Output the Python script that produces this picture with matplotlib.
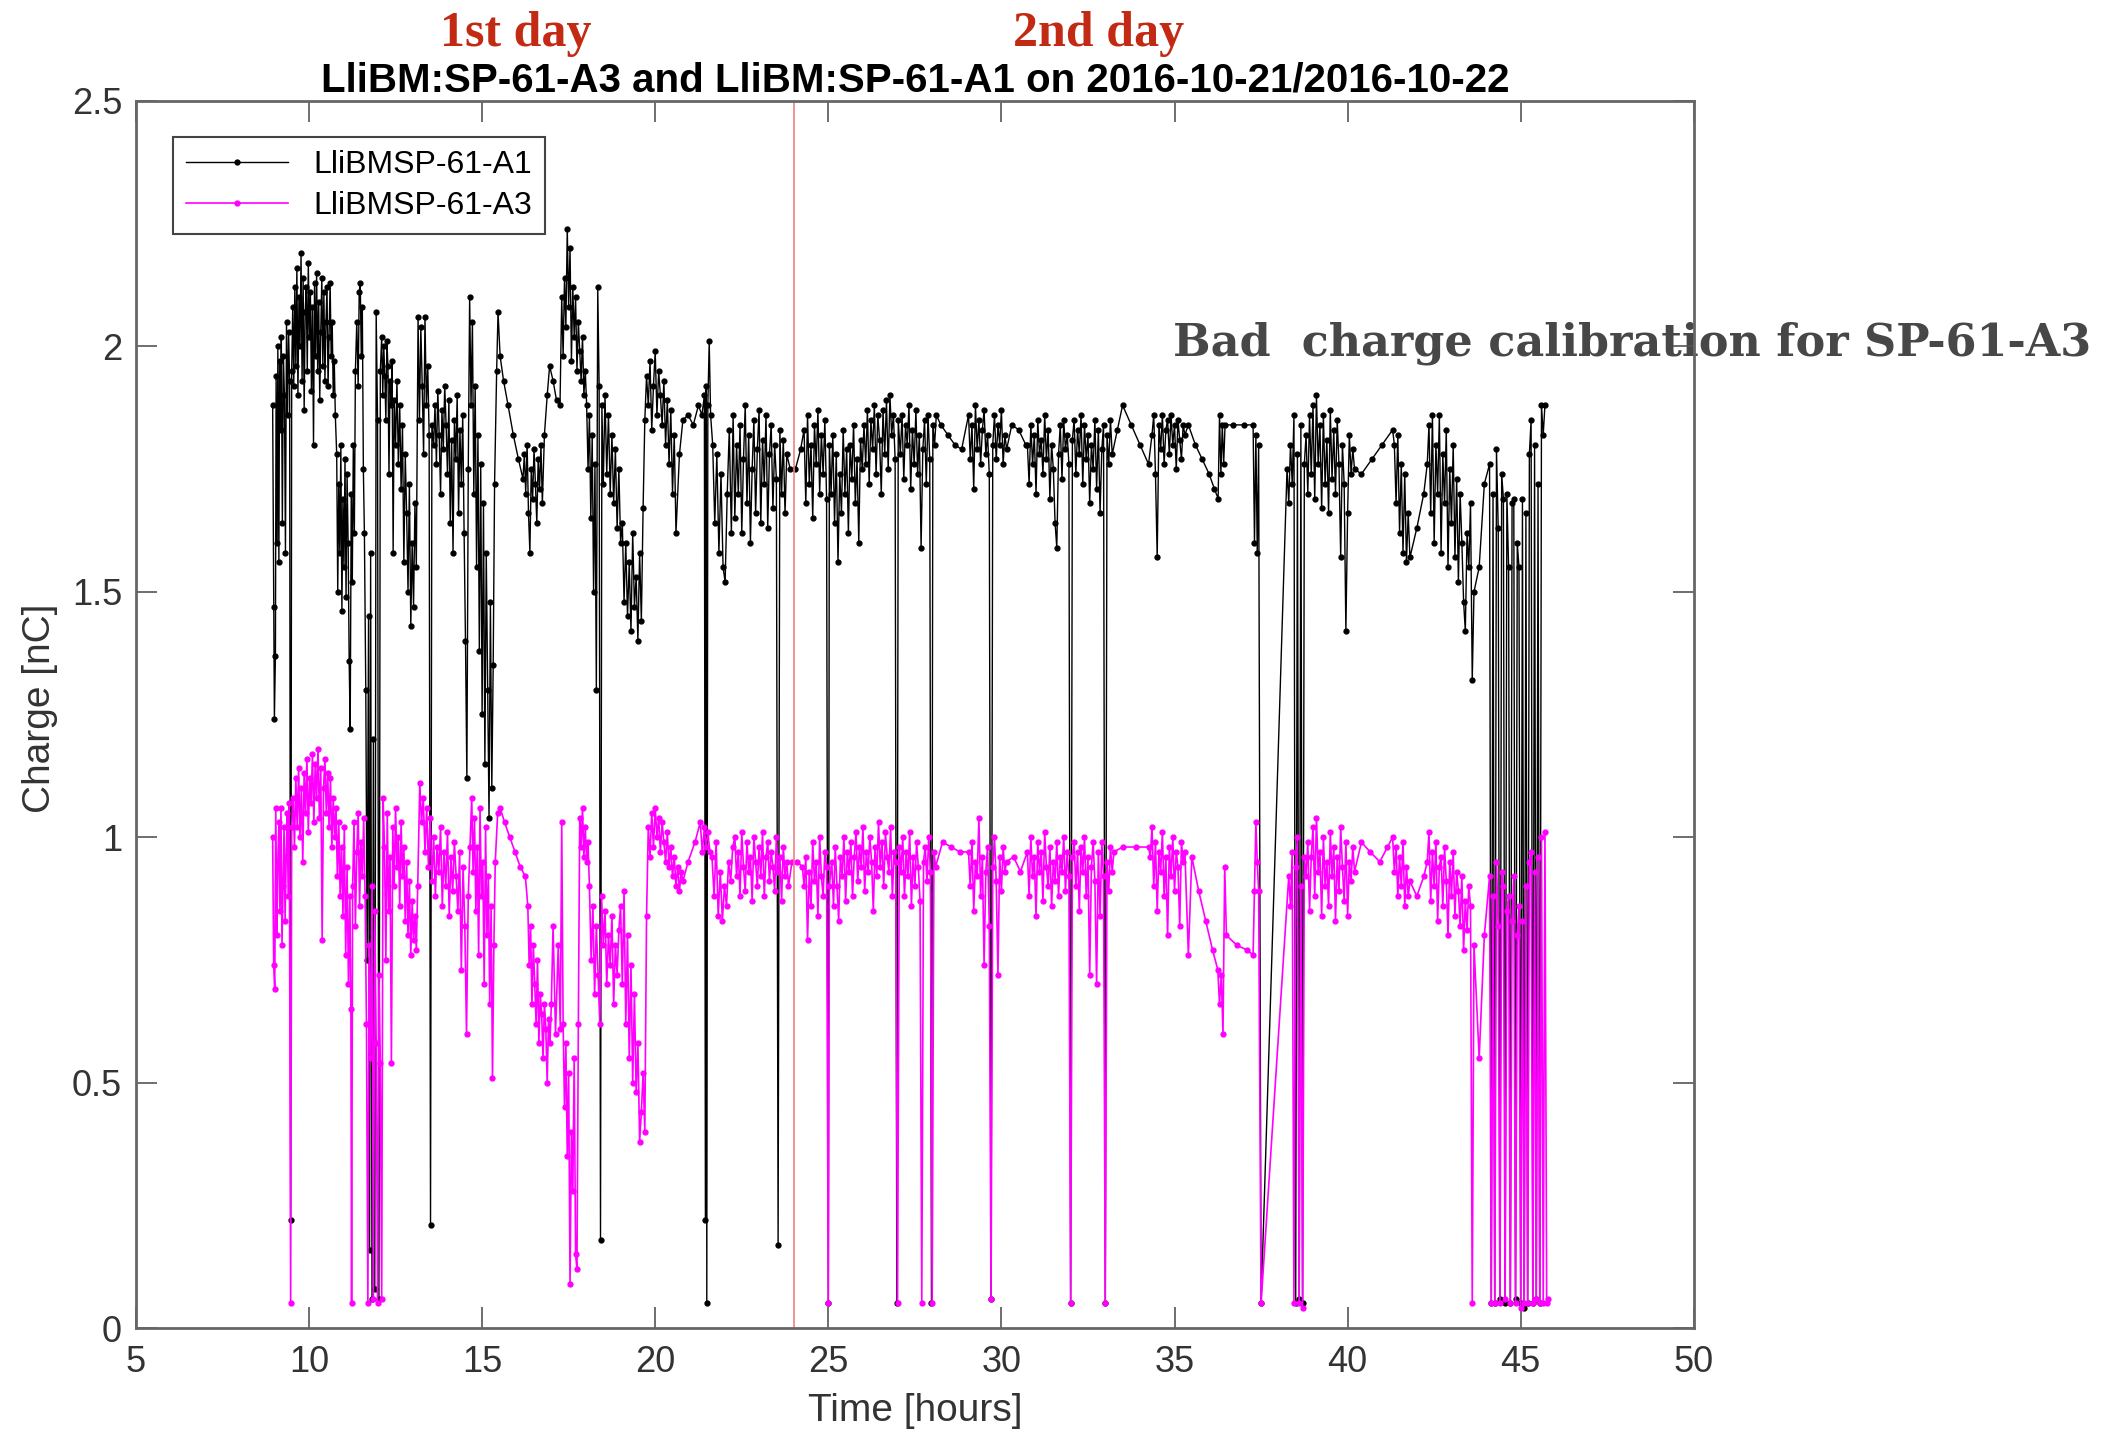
import matplotlib
matplotlib.use('Agg')
import matplotlib.pyplot as plt

# LliBMSP-61-A1 (black)
a1_hours = [
    8.95, 8.98, 9.00, 9.03, 9.05, 9.08, 9.10, 9.13, 9.15, 9.18,
    9.20, 9.23, 9.26, 9.29, 9.32, 9.35, 9.38, 9.41, 9.44, 9.47,
    9.50, 9.53, 9.56, 9.59,
    9.62, 9.65, 9.68, 9.71, 9.74, 9.77, 9.80, 9.83, 9.86, 9.89,
    9.92, 9.95, 9.98, 10.01, 10.04, 10.07, 10.10, 10.13, 10.16, 10.19,
    10.22, 10.25, 10.28, 10.31, 10.34, 10.37, 10.40, 10.43, 10.46, 10.49,
    10.52, 10.55, 10.58, 10.61, 10.64, 10.67, 10.70, 10.73, 10.76,
    10.80, 10.83, 10.86, 10.89, 10.92, 10.95, 10.98, 11.01, 11.04, 11.07,
    11.10, 11.13, 11.16, 11.19, 11.22, 11.25, 11.28, 11.31, 11.34,
    11.38, 11.42, 11.45, 11.48, 11.51, 11.54, 11.57,
    11.60, 11.64, 11.68, 11.72, 11.75, 11.78, 11.82, 11.86, 11.90, 11.94,
    11.98, 12.02, 12.06, 12.10,
    12.13, 12.16, 12.19, 12.22, 12.25, 12.28, 12.31, 12.34, 12.37, 12.40,
    12.43,
    12.46, 12.50, 12.54, 12.58, 12.62, 12.66, 12.70, 12.74, 12.78, 12.82,
    12.86, 12.90, 12.94, 12.98, 13.02, 13.06, 13.10,
    13.15, 13.19, 13.23, 13.27, 13.31, 13.35, 13.39, 13.43, 13.47, 13.51,
    13.55,
    13.60, 13.64, 13.68, 13.72, 13.76, 13.80, 13.84, 13.88, 13.92, 13.96,
    14.00, 14.04, 14.08, 14.12, 14.16, 14.20, 14.24, 14.28, 14.32, 14.36,
    14.40, 14.44, 14.48,
    14.52, 14.56, 14.60, 14.64, 14.68, 14.72, 14.76, 14.80, 14.84, 14.88,
    14.92, 14.96, 15.00, 15.04, 15.08, 15.12, 15.16, 15.20, 15.24, 15.28,
    15.32, 15.36,
    15.42, 15.46, 15.52, 15.62, 15.75, 15.90, 16.05, 16.18,
    16.22, 16.26, 16.30, 16.34, 16.38, 16.42, 16.46, 16.50, 16.54, 16.58,
    16.62, 16.66, 16.70, 16.74,
    16.80, 16.88, 16.95, 17.05, 17.15, 17.25,
    17.30, 17.34, 17.38, 17.42, 17.46, 17.50, 17.54, 17.58, 17.62, 17.66,
    17.70, 17.74, 17.78, 17.82, 17.86, 17.90, 17.94, 17.98,
    18.02, 18.06, 18.10, 18.14, 18.18, 18.22, 18.26, 18.30, 18.34, 18.38,
    18.42, 18.46, 18.50,
    18.55, 18.60, 18.65, 18.70, 18.75, 18.80, 18.85, 18.90, 18.95, 19.00,
    19.05, 19.10, 19.15, 19.20, 19.25, 19.30, 19.35, 19.40, 19.45, 19.50,
    19.55, 19.60, 19.65,
    19.70, 19.75, 19.80, 19.85, 19.90, 19.95, 20.00, 20.05, 20.10, 20.15,
    20.20, 20.25, 20.30, 20.35, 20.40, 20.45, 20.50, 20.55, 20.60,
    20.70, 20.80, 20.95, 21.10, 21.25, 21.35, 21.42, 21.45, 21.47, 21.49,
    21.52, 21.56, 21.60,
    21.66, 21.72, 21.78, 21.84, 21.90, 21.96, 22.02, 22.08, 22.14, 22.20,
    22.25, 22.30, 22.35, 22.40, 22.45, 22.50, 22.55, 22.60, 22.65, 22.70,
    22.75, 22.80, 22.85, 22.90, 22.95, 23.00, 23.05, 23.10, 23.15, 23.20,
    23.25, 23.30, 23.35, 23.40, 23.45, 23.50, 23.55, 23.60, 23.65, 23.70,
    23.75, 23.80,
    23.90, 24.05, 24.20,
    24.30, 24.35, 24.40, 24.45, 24.50, 24.55, 24.60, 24.65, 24.70, 24.75,
    24.80, 24.85, 24.90, 24.95, 25.00, 25.03,
    25.08, 25.13, 25.18, 25.23, 25.28, 25.33, 25.38, 25.43, 25.48, 25.53,
    25.58, 25.63, 25.68, 25.73, 25.78, 25.83, 25.88, 25.93, 25.98,
    26.03, 26.08, 26.13, 26.18, 26.23, 26.28, 26.33, 26.38, 26.43, 26.48,
    26.53, 26.58, 26.63, 26.68, 26.73, 26.78, 26.83, 26.88, 26.93, 26.98,
    27.02,
    27.08, 27.13, 27.18, 27.23, 27.28, 27.33, 27.38, 27.43, 27.48, 27.53,
    27.58, 27.63, 27.68, 27.73, 27.78, 27.83, 27.88, 27.93, 27.98, 28.02,
    28.07, 28.12,
    28.25, 28.45, 28.65, 28.85,
    29.05, 29.10, 29.15, 29.20, 29.25, 29.30, 29.35, 29.40, 29.45, 29.50,
    29.55, 29.60, 29.65, 29.70, 29.75, 29.80, 29.85, 29.90, 29.95, 30.00,
    30.05, 30.10, 30.15,
    30.30, 30.50, 30.70,
    30.75, 30.80, 30.85, 30.90, 30.95, 31.00, 31.05, 31.10, 31.15, 31.20,
    31.25, 31.30, 31.35, 31.40, 31.45, 31.50, 31.55, 31.60, 31.65, 31.70,
    31.75, 31.80, 31.85, 31.90, 31.95, 32.00, 32.05, 32.10, 32.15, 32.20,
    32.25, 32.30, 32.35, 32.40, 32.45, 32.50, 32.55, 32.60, 32.65, 32.70,
    32.75, 32.80, 32.85, 32.90, 32.95, 33.00, 33.05, 33.10, 33.15, 33.20,
    33.35, 33.50, 33.75, 34.00, 34.25,
    34.35, 34.40, 34.45, 34.50, 34.55, 34.60, 34.65, 34.70, 34.75, 34.80,
    34.85, 34.90, 34.95, 35.00, 35.05, 35.10, 35.15, 35.20, 35.25, 35.30,
    35.40, 35.60, 35.80, 36.00, 36.15, 36.26,
    36.30, 36.34, 36.38, 36.42, 36.46, 36.70, 37.00, 37.27, 37.31, 37.35,
    37.39, 37.43,
    37.50, 38.25, 38.30, 38.35, 38.40, 38.45, 38.50, 38.55, 38.60, 38.65,
    38.70, 38.75,
    38.80, 38.85, 38.90, 38.95, 39.00, 39.05, 39.10, 39.15, 39.20, 39.25,
    39.30, 39.35, 39.40, 39.45, 39.50, 39.55, 39.60, 39.65, 39.70, 39.75,
    39.80, 39.85, 39.90, 39.95, 40.00, 40.05, 40.10, 40.15, 40.20,
    40.40, 40.70, 41.00, 41.30,
    41.35, 41.40, 41.45, 41.50, 41.55, 41.60, 41.65, 41.70, 41.75, 41.80,
    42.00, 42.20,
    42.30, 42.35, 42.40, 42.45, 42.50, 42.55, 42.60, 42.65, 42.70, 42.75,
    42.80, 42.85, 42.90, 42.95, 43.00, 43.05, 43.10, 43.15, 43.20, 43.25,
    43.30, 43.35, 43.40, 43.45, 43.50, 43.55, 43.60, 43.65,
    43.80, 43.95, 44.10, 44.15, 44.20, 44.25, 44.30, 44.35, 44.40, 44.45,
    44.50, 44.55, 44.60, 44.65, 44.70, 44.75, 44.80, 44.85, 44.90, 44.95,
    45.00, 45.05, 45.10, 45.15, 45.20, 45.25, 45.30, 45.35, 45.40, 45.45,
    45.50, 45.55, 45.60, 45.65, 45.70,
]
a1_charge = [
    1.88, 1.47, 1.24, 1.37, 1.94, 1.60, 2.00, 1.56, 1.97, 1.83,
    2.02, 1.64, 1.98, 1.90, 1.58, 2.05, 1.86, 2.03, 1.93, 0.22,
    1.95, 2.08, 1.92, 2.12,
    1.96, 2.16, 1.90, 2.10, 2.00, 2.19, 1.93, 2.14, 1.87, 2.07,
    2.12, 1.95, 2.17, 2.02, 2.11, 1.91, 2.08, 1.80, 2.13, 1.98,
    2.15, 1.95, 2.09, 1.89, 2.03, 2.14, 1.96, 2.11, 1.93, 2.05,
    2.12, 1.92, 2.02, 2.13, 1.98, 2.05, 1.90, 1.97, 1.86,
    1.78, 1.50, 1.72, 1.58, 1.80, 1.46, 1.69, 1.55, 1.77, 1.49,
    1.74, 1.60, 1.36, 1.22, 1.70, 1.52, 1.80, 1.62, 1.95,
    2.05, 1.92, 2.11, 2.13, 1.98, 2.08, 1.75,
    1.62, 1.30, 0.75, 1.45, 0.16, 1.58, 0.06, 1.20, 0.08, 2.07,
    1.85, 0.06, 1.95, 2.02,
    1.90, 2.00, 1.94, 1.85, 2.01, 1.96, 1.74, 1.93, 1.88, 1.97,
    1.58,
    1.89, 1.80, 1.93, 1.76, 1.88, 1.71, 1.84, 1.56, 1.78, 1.66,
    1.50, 1.72, 1.43, 1.60, 1.47, 1.68, 1.55,
    2.06, 1.85, 2.04, 1.92, 1.78, 2.06, 1.88, 1.96, 1.82, 0.21,
    1.84,
    1.80, 1.88, 1.76, 1.91, 1.82, 1.70, 1.87, 1.79, 1.92, 1.84,
    1.74, 1.89, 1.64, 1.81, 1.58, 1.85, 1.77, 1.90, 1.66, 1.83,
    1.72, 1.86, 1.62,
    1.40, 1.12, 1.75, 2.10, 1.88, 2.05, 1.70, 1.92, 1.55, 1.82,
    1.38, 1.76, 1.25, 1.68, 1.15, 1.58, 1.30, 1.04, 1.48, 1.10,
    1.35, 1.72,
    1.95, 2.07, 1.98, 1.93, 1.88, 1.82, 1.77, 1.73,
    1.78, 1.70, 1.80, 1.66, 1.58, 1.75, 1.69, 1.79, 1.72, 1.64,
    1.77, 1.71, 1.80, 1.68,
    1.82, 1.90, 1.96, 1.93, 1.89, 1.88,
    2.10, 1.98, 2.14, 2.04, 2.24, 2.08, 2.20, 1.97, 2.12, 2.02,
    2.10, 1.95, 2.05, 1.99, 1.93, 2.02, 1.90, 1.95,
    1.88, 1.75, 1.86, 1.65, 1.82, 1.50, 1.76, 1.30, 2.12, 1.92,
    0.18, 1.88, 1.72,
    1.90, 1.74, 1.86, 1.70, 1.82, 1.68, 1.79, 1.63, 1.75, 1.60,
    1.64, 1.48, 1.60, 1.45, 1.56, 1.42, 1.62, 1.47, 1.53, 1.40,
    1.58, 1.44, 1.67,
    1.85, 1.94, 1.88, 1.97, 1.83, 1.92, 1.99, 1.86, 1.95, 1.90,
    1.84, 1.93, 1.80, 1.89, 1.76, 1.87, 1.70, 1.82, 1.62,
    1.78, 1.85, 1.86, 1.84, 1.88, 1.86, 1.90, 0.22, 1.92, 0.05,
    1.88, 2.01, 1.86,
    1.80, 1.64, 1.78, 1.58, 1.74, 1.55, 1.52, 1.70, 1.83, 1.62,
    1.86, 1.65, 1.80, 1.70, 1.84, 1.62, 1.77, 1.88, 1.68, 1.82,
    1.60, 1.75, 1.85, 1.66, 1.79, 1.87, 1.64, 1.81, 1.72, 1.86,
    1.63, 1.78, 1.84, 1.67, 1.80, 1.73, 0.17, 1.83, 1.70, 1.81,
    1.66, 1.78,
    1.75, 1.75, 1.79,
    1.83, 1.68, 1.86, 1.72, 1.80, 1.65, 1.84, 1.76, 1.87, 1.70,
    1.82, 1.74, 1.85, 1.69, 0.05, 1.80,
    1.70, 1.82, 1.64, 1.78, 1.56, 1.74, 1.66, 1.83, 1.70, 1.79,
    1.62, 1.80, 1.73, 1.84, 1.68, 1.77, 1.60, 1.81, 1.75,
    1.84, 1.76, 1.87, 1.72, 1.85, 1.79, 1.88, 1.74, 1.86, 1.81,
    1.70, 1.87, 1.78, 1.89, 1.75, 1.90, 1.82, 1.86, 1.77, 0.05,
    1.85,
    1.78, 1.86, 1.73, 1.84, 1.80, 1.88, 1.71, 1.83, 1.76, 1.87,
    1.74, 1.82, 1.59, 1.79, 1.85, 1.72, 1.86, 1.77, 0.05, 1.84,
    1.80, 1.86,
    1.84, 1.82, 1.80, 1.79,
    1.86, 1.77, 1.84, 1.71, 1.88, 1.79, 1.85, 1.76, 1.83, 1.87,
    1.78, 1.82, 1.74, 0.06, 1.80, 1.86, 1.77, 1.84, 1.80, 1.87,
    1.76, 1.82, 1.79,
    1.84, 1.83, 1.80,
    1.80, 1.72, 1.84, 1.76, 1.82, 1.70, 1.85, 1.78, 1.81, 1.74,
    1.86, 1.77, 1.83, 1.69, 1.80, 1.75, 1.64, 1.59, 1.78, 1.84,
    1.73, 1.85, 1.79, 1.82, 1.76, 0.05, 1.81, 1.85, 1.74, 1.83,
    1.78, 1.86, 1.72, 1.84, 1.77, 1.82, 1.68, 1.80, 1.75, 1.85,
    1.71, 1.83, 1.66, 1.79, 1.84, 0.05, 1.82, 1.76, 1.85, 1.78,
    1.83, 1.88, 1.84, 1.80, 1.76,
    1.82, 1.86, 1.74, 1.57, 1.84, 1.79, 1.86, 1.76, 1.83, 1.85,
    1.78, 1.86, 1.80, 1.84, 1.75, 1.85, 1.81, 1.77, 1.84, 1.82,
    1.84, 1.80, 1.77, 1.74, 1.71, 1.69,
    1.86, 1.74, 1.84, 1.76, 1.84, 1.84, 1.84, 1.84, 1.60, 1.82,
    1.58, 1.80,
    0.05, 1.75, 1.68, 1.80, 1.72, 1.86, 0.05, 1.78, 0.06, 1.84,
    0.05, 1.76,
    1.82, 1.70, 1.86, 1.74, 1.88, 1.69, 1.90, 1.76, 1.84, 1.67,
    1.86, 1.72, 1.81, 1.66, 1.87, 1.73, 1.83, 1.70, 1.85, 1.76,
    1.57, 1.80, 1.72, 1.42, 1.66, 1.82, 1.74, 1.79, 1.75,
    1.74, 1.77, 1.80, 1.83,
    1.80, 1.68, 1.82, 1.62, 1.76, 1.58, 1.74, 1.56, 1.66, 1.57,
    1.63, 1.70,
    1.76, 1.84, 1.66, 1.86, 1.60, 1.80, 1.70, 1.86, 1.58, 1.78,
    1.68, 1.83, 1.55, 1.75, 1.64, 1.80, 1.57, 1.73, 1.52, 1.70,
    1.60, 1.48, 1.42, 1.62, 1.55, 1.68, 1.32, 1.50,
    1.55, 1.72, 1.76, 0.05, 1.70, 0.05, 1.79, 1.63, 0.06, 1.74,
    1.69, 0.05, 1.70, 1.55, 0.05, 1.68, 1.69, 0.06, 1.60, 1.55,
    0.05, 1.69, 0.04, 1.66, 0.05, 1.78, 1.85, 0.05, 1.80, 0.06,
    1.72, 0.05, 1.88, 1.82, 1.88,
]

# LliBMSP-61-A3 (magenta)
a3_hours = [
    8.95, 8.98, 9.01, 9.04, 9.07, 9.10, 9.13, 9.16, 9.19, 9.22,
    9.25, 9.28, 9.31, 9.34, 9.37, 9.40, 9.43, 9.47, 9.50,
    9.54, 9.58, 9.62, 9.66, 9.70, 9.74, 9.78, 9.82, 9.86, 9.90,
    9.94, 9.98, 10.02, 10.06, 10.10, 10.14, 10.18, 10.22, 10.26, 10.30,
    10.34, 10.38, 10.42, 10.46, 10.50, 10.54, 10.58, 10.62, 10.66, 10.70,
    10.74, 10.78, 10.82, 10.86, 10.90,
    10.94, 10.98, 11.02, 11.06, 11.10, 11.14, 11.18, 11.21, 11.23, 11.26,
    11.30, 11.34, 11.38, 11.42, 11.46, 11.50, 11.54, 11.58, 11.62,
    11.66, 11.70, 11.74, 11.78, 11.82, 11.86, 11.90, 11.94, 11.98, 12.02,
    12.06, 12.10, 12.14,
    12.18, 12.22, 12.26, 12.30, 12.34, 12.38, 12.42, 12.46, 12.50, 12.54,
    12.58, 12.62, 12.66, 12.70, 12.74, 12.78, 12.82, 12.86, 12.90, 12.94,
    12.98, 13.02, 13.06, 13.10, 13.14,
    13.20, 13.25, 13.30, 13.35, 13.40, 13.45, 13.50, 13.55, 13.60, 13.65,
    13.70, 13.75, 13.80, 13.85, 13.90, 13.95, 14.00, 14.05, 14.10, 14.15,
    14.20, 14.25, 14.30, 14.35, 14.40, 14.45, 14.50, 14.55, 14.60, 14.65,
    14.70, 14.74, 14.78, 14.82, 14.86, 14.90, 14.94, 14.98, 15.02, 15.06,
    15.10, 15.14, 15.18, 15.22, 15.26, 15.30, 15.34, 15.38,
    15.45, 15.52, 15.65, 15.80, 15.95, 16.10, 16.25,
    16.32, 16.36, 16.40, 16.44, 16.48, 16.52, 16.56, 16.60, 16.64, 16.68,
    16.72, 16.76, 16.80, 16.84, 16.88, 16.92, 16.96, 17.00,
    17.05, 17.12, 17.20, 17.26, 17.30, 17.34, 17.38, 17.42, 17.46, 17.50,
    17.54, 17.58, 17.62, 17.66, 17.70, 17.74, 17.78,
    17.82, 17.86, 17.90, 17.94, 17.98, 18.02, 18.06,
    18.10, 18.15, 18.20, 18.25, 18.30, 18.35, 18.40, 18.45, 18.50, 18.55,
    18.60, 18.65, 18.70, 18.75, 18.80, 18.85, 18.90, 18.95,
    19.00, 19.05, 19.10, 19.15, 19.20, 19.25, 19.30, 19.35, 19.40, 19.45,
    19.50, 19.55, 19.60, 19.65, 19.70,
    19.75, 19.80, 19.85, 19.90, 19.95, 20.00, 20.05, 20.10, 20.15, 20.20,
    20.25, 20.30, 20.35, 20.40, 20.45, 20.50, 20.55, 20.60, 20.65, 20.70,
    20.75, 20.80,
    20.95, 21.15, 21.30, 21.36, 21.42, 21.47, 21.52, 21.58,
    21.64, 21.70, 21.76, 21.82, 21.88, 21.94, 22.00, 22.06, 22.12, 22.18,
    22.24,
    22.30, 22.35, 22.40, 22.45, 22.50, 22.55, 22.60, 22.65, 22.70, 22.75,
    22.80, 22.85, 22.90, 22.95, 23.00, 23.05, 23.10, 23.15, 23.20, 23.25,
    23.30, 23.35, 23.40, 23.45, 23.50, 23.55, 23.60, 23.65, 23.70, 23.75,
    23.80, 23.85,
    23.95, 24.10, 24.25,
    24.30, 24.35, 24.40, 24.45, 24.50, 24.55, 24.60, 24.65, 24.70, 24.75,
    24.80, 24.85, 24.90, 24.95, 25.00, 25.03,
    25.10, 25.15, 25.20, 25.25, 25.30, 25.35, 25.40, 25.45, 25.50, 25.55,
    25.60, 25.65, 25.70, 25.75, 25.80, 25.85, 25.90, 25.95, 26.00, 26.05,
    26.10, 26.15, 26.20, 26.25, 26.30, 26.35, 26.40, 26.45, 26.50, 26.55,
    26.60, 26.65, 26.70, 26.75, 26.80, 26.85, 26.90, 26.95,
    27.00, 27.05,
    27.10, 27.15, 27.20, 27.25, 27.30, 27.35, 27.40, 27.45, 27.50, 27.55,
    27.60, 27.65, 27.70, 27.75, 27.80, 27.85, 27.90, 27.95, 28.00, 28.05,
    28.10,
    28.30, 28.55, 28.80,
    29.05, 29.10, 29.15, 29.20, 29.25, 29.30, 29.35, 29.40, 29.45, 29.50,
    29.55, 29.60, 29.65, 29.70, 29.75, 29.80, 29.85, 29.90, 29.95, 30.00,
    30.05, 30.10, 30.15,
    30.35, 30.55,
    30.75, 30.80, 30.85, 30.90, 30.95, 31.00, 31.05, 31.10, 31.15, 31.20,
    31.25, 31.30, 31.35, 31.40, 31.45, 31.50, 31.55, 31.60, 31.65, 31.70,
    31.75, 31.80, 31.85, 31.90, 31.95, 32.00, 32.05, 32.10, 32.15, 32.20,
    32.25, 32.30, 32.35, 32.40, 32.45, 32.50, 32.55, 32.60, 32.65, 32.70,
    32.75, 32.80, 32.85, 32.90, 32.95, 33.00, 33.05, 33.10, 33.15, 33.20,
    33.25,
    33.50, 33.90, 34.25,
    34.30, 34.35, 34.40, 34.45, 34.50, 34.55, 34.60, 34.65, 34.70, 34.75,
    34.80, 34.85, 34.90, 34.95, 35.00, 35.05, 35.10, 35.15, 35.20, 35.25,
    35.30,
    35.40, 35.50, 35.70, 35.90, 36.10, 36.25, 36.30, 36.35, 36.40, 36.45,
    36.50, 36.80, 37.10, 37.27, 37.31, 37.35, 37.39, 37.43, 37.50,
    38.30, 38.35, 38.40, 38.45, 38.50, 38.55, 38.60, 38.65, 38.70, 38.75,
    38.80, 38.85, 38.90, 38.95, 39.00, 39.05, 39.10, 39.15, 39.20, 39.25,
    39.30, 39.35, 39.40, 39.45, 39.50, 39.55, 39.60, 39.65, 39.70, 39.75,
    39.80, 39.85, 39.90, 39.95, 40.00, 40.05, 40.10, 40.15, 40.20,
    40.40, 40.65, 40.93, 41.15, 41.30,
    41.35, 41.40, 41.45, 41.50, 41.55, 41.60, 41.65, 41.70, 41.75, 41.80,
    42.00, 42.20,
    42.30, 42.35, 42.40, 42.45, 42.50, 42.55, 42.60, 42.65, 42.70, 42.75,
    42.80, 42.85, 42.90, 42.95, 43.00, 43.05, 43.10, 43.15, 43.20, 43.25,
    43.30, 43.35, 43.40, 43.45, 43.50, 43.55, 43.60, 43.65,
    43.80, 43.95, 44.10, 44.15, 44.20, 44.25, 44.30, 44.35, 44.40, 44.45,
    44.50, 44.55, 44.60, 44.65, 44.70, 44.75, 44.80, 44.85, 44.90, 44.95,
    45.00, 45.05, 45.10, 45.15, 45.20, 45.25, 45.30, 45.35, 45.40, 45.45,
    45.50, 45.55, 45.60, 45.65, 45.70, 45.75, 45.80,
]
a3_charge = [
    1.00, 0.74, 0.69, 1.06, 0.80, 0.95, 1.03, 0.85, 1.06, 0.78,
    0.90, 1.02, 0.83, 0.96, 1.05, 0.88, 1.07, 0.05, 1.02,
    1.08, 0.98, 1.12, 1.02, 1.14, 1.00, 1.10, 0.95, 1.13, 1.05,
    1.16, 1.01, 1.12, 1.07, 1.17, 1.03, 1.15, 1.08, 1.18, 1.04,
    1.14, 0.79, 1.10, 1.16, 1.05, 1.13, 1.02, 1.12, 0.98, 1.08,
    1.00, 1.06, 0.92, 1.03, 0.88,
    0.98, 0.84, 1.02, 0.76, 0.94, 0.70, 0.88, 0.65, 0.05, 0.90,
    1.03, 0.82, 0.97, 1.05, 0.86, 0.99, 0.92, 1.04, 0.88,
    0.62, 0.05, 0.78, 0.55, 0.90, 0.06, 0.85, 0.58, 0.05, 0.72,
    0.54, 0.06, 1.08,
    0.98, 0.75, 1.05, 0.85, 0.96, 0.54, 1.02, 0.90, 1.06, 0.94,
    1.00, 0.86, 1.03, 0.92, 0.98, 0.83, 0.95, 0.80, 0.91, 0.76,
    0.87, 0.79, 0.84, 0.77, 0.90,
    1.11, 1.03, 1.08, 0.97, 1.06, 0.94, 1.04, 0.91, 1.00, 0.88,
    0.98, 0.93, 1.02, 0.86, 0.97, 0.90, 1.01, 0.84, 0.96, 0.89,
    0.99, 0.92, 0.85, 0.97, 0.73, 0.94, 0.82, 0.60, 0.88, 0.98,
    1.08, 0.93, 1.04, 0.85, 0.98, 0.76, 1.06, 0.88, 0.95, 0.70,
    1.02, 0.80, 0.92, 0.66, 0.86, 0.51, 0.78, 0.95,
    1.05, 1.06, 1.03, 1.00, 0.97, 0.94, 0.92,
    0.86, 0.74, 0.82, 0.66, 0.78, 0.70, 0.62, 0.75, 0.58, 0.68,
    0.64, 0.55, 0.66, 0.61, 0.50, 0.63, 0.58, 0.66,
    0.82, 0.60, 0.78, 0.61, 1.03, 0.62, 0.45, 0.58, 0.35, 0.52,
    0.09, 0.40, 0.28, 0.55, 0.15, 0.12, 0.62,
    1.04, 0.98, 1.06, 0.96, 1.02, 0.95, 0.99,
    0.90, 0.75, 0.86, 0.68, 0.82, 0.72, 0.62, 0.88, 0.78, 0.85,
    0.70, 0.80, 0.74, 0.84, 0.66, 0.78, 0.72, 0.81,
    0.86, 0.70, 0.89, 0.62, 0.80, 0.55, 0.74, 0.50, 0.68, 0.48,
    0.58, 0.38, 0.44, 0.52, 0.40,
    0.84, 1.02, 0.96, 1.05, 0.98, 1.06, 1.00, 1.04, 0.97, 1.03,
    0.99, 0.95, 1.01, 0.94, 0.98, 0.92, 0.96, 0.90, 0.94, 0.89,
    0.93, 0.91,
    0.95, 0.99, 1.03, 0.97, 1.02, 0.98, 1.01, 0.97,
    0.96, 0.88, 0.99, 0.84, 0.93, 0.83, 0.90, 0.86, 0.95, 0.91,
    0.98,
    1.00, 0.92, 0.97, 0.88, 1.01, 0.94, 0.89, 0.99, 0.93, 0.96,
    0.87, 1.00, 0.95, 0.90, 0.98, 0.92, 1.01, 0.88, 0.96, 0.99,
    0.91, 0.97, 0.94, 0.89, 1.00, 0.93, 0.96, 0.87, 0.98, 0.92,
    0.95, 0.90,
    0.95, 0.95, 0.94,
    0.90, 0.96, 0.79, 0.93, 0.86, 0.99, 0.91, 0.95, 0.84, 1.00,
    0.92, 0.88, 0.97, 0.94, 0.05, 0.90,
    0.95, 0.86, 0.98, 0.90, 0.83, 0.96, 0.92, 1.00, 0.87, 0.97,
    0.93, 0.99, 0.88, 0.96, 1.01, 0.91, 0.98, 0.94, 1.02, 0.89,
    0.97, 0.93, 1.00, 0.95, 0.85, 0.98, 0.92, 1.03, 0.94, 0.99,
    0.90, 1.01, 0.96, 0.93, 1.02, 0.88, 0.97, 0.95,
    0.05, 0.98,
    0.93, 1.00, 0.88, 0.97, 0.92, 1.01, 0.86, 0.96, 0.90, 0.99,
    0.94, 0.87, 0.05, 0.95, 0.98, 0.91, 1.00, 0.93, 0.05, 0.97,
    0.94,
    0.99, 0.98, 0.97,
    0.97, 0.90, 0.99, 0.85, 0.95, 0.92, 1.04, 0.88, 0.96, 0.74,
    0.93, 0.98, 0.82, 0.06, 0.94, 1.00, 0.91, 0.72, 0.96, 0.89,
    0.98, 0.93, 0.95,
    0.96, 0.93,
    0.97, 0.88, 1.00, 0.92, 0.96, 0.84, 0.99, 0.93, 0.97, 0.87,
    1.01, 0.94, 0.90, 0.98, 0.86, 0.95, 0.91, 0.99, 0.88, 0.96,
    0.93, 1.00, 0.89, 0.97, 0.92, 0.05, 0.96, 0.99, 0.90, 0.97,
    0.85, 0.98, 0.93, 1.00, 0.88, 0.96, 0.72, 0.94, 0.99, 0.91,
    0.70, 0.97, 0.84, 0.99, 0.92, 0.05, 0.95, 0.89, 0.98, 0.93,
    0.97,
    0.98, 0.98, 0.98,
    0.96, 1.02, 0.90, 0.99, 0.85, 0.97, 0.93, 1.01, 0.88, 0.96,
    0.80, 0.98, 0.92, 1.00, 0.89, 0.97, 0.94, 0.82, 0.99, 0.95,
    0.97,
    0.76, 0.96, 0.89, 0.83, 0.77, 0.73, 0.66, 0.72, 0.60, 0.94,
    0.80, 0.78, 0.77, 0.76, 0.89, 1.03, 0.95, 0.89, 0.05,
    0.92, 0.86, 0.97, 0.05, 0.94, 1.00, 0.05, 0.90, 0.04, 0.96,
    0.92, 0.99, 0.85, 0.96, 1.02, 0.88, 1.04, 0.93, 0.97, 0.84,
    1.00, 0.90, 0.95, 0.86, 1.01, 0.92, 0.98, 0.83, 0.96, 0.89,
    1.02, 0.94, 0.87, 0.99, 0.84, 0.95, 0.91, 0.98, 0.93,
    0.99, 0.97, 0.95, 0.98, 1.00,
    0.93, 0.98, 0.88, 0.96, 0.90, 0.99, 0.86, 0.94, 0.88, 0.91,
    0.88, 0.92,
    0.95, 1.01, 0.87, 0.97, 0.90, 0.99, 0.83, 0.94, 0.96, 0.86,
    0.98, 0.91, 0.80, 0.95, 0.88, 0.97, 0.84, 0.93, 0.89, 0.82,
    0.92, 0.77, 0.87, 0.81, 0.90, 0.86, 0.05, 0.78,
    0.55, 0.80, 0.92, 0.05, 0.88, 0.05, 0.95, 0.82, 0.05, 0.93,
    0.90, 0.06, 0.85, 0.88, 0.05, 0.83, 0.92, 0.05, 0.80, 0.86,
    0.04, 0.83, 0.05, 0.90, 0.05, 0.95, 0.97, 0.05, 0.93, 0.06,
    0.96, 0.05, 1.00, 0.05, 1.01, 0.05, 0.06,
]

x_ticks = [5, 10, 15, 20, 25, 30, 35, 40, 45, 50]
y_ticks = [0, 0.5, 1, 1.5, 2, 2.5]
y_tick_labels = ['0', '0.5', '1', '1.5', '2', '2.5']
day_boundary = 24

plt.rcParams['font.family'] = ['Liberation Sans', 'DejaVu Sans']

fig = plt.figure(figsize=(21.07, 14.32), dpi=100)
ax = fig.add_axes([0.0645, 0.0726, 0.7394, 0.8569])
ax.patch.set_visible(False)

ax.plot(a1_hours, a1_charge, color='black', lw=1.0, marker='.', ms=7,
        label='LliBMSP-61-A1')
ax.plot(a3_hours, a3_charge, color='magenta', lw=1.2, marker='.', ms=7,
        label='LliBMSP-61-A3')
ax.axvline(day_boundary, color='#f08080', lw=1.2)

ax.set_xlim(5, 50)
ax.set_ylim(0, 2.5)
ax.set_xticks(x_ticks)
ax.set_yticks(y_ticks)
ax.set_yticklabels(y_tick_labels)
ax.tick_params(direction='in', top=True, right=True, length=15, width=1.2,
               labelsize=26, labelcolor='#333333', color='#555555')
ax.tick_params(axis='x', pad=12)
ax.tick_params(axis='y', pad=10)
for sp in ax.spines.values():
    sp.set_color('#666666')
    sp.set_linewidth(2)

leg = ax.legend(loc='upper left', bbox_to_anchor=(0.0237, 0.9707),
                borderaxespad=0, fontsize=23, fancybox=False,
                edgecolor='#444444', framealpha=1, handlelength=3.2,
                numpoints=1, labelspacing=0.35, borderpad=0.4)
leg.get_frame().set_linewidth(1.5)

cx = 0.4343
fig.text(cx, 0.944, 'LliBM:SP-61-A3 and LliBM:SP-61-A1 on 2016-10-21/2016-10-22',
         ha='center', va='center', fontsize=29, fontweight='bold')
fig.text(cx, 0.0148, 'Time [hours]', ha='center', va='center', fontsize=28,
         color='#333333')
fig.text(0.019, 0.5056, 'Charge [nC]', rotation=90, ha='center', va='center',
         fontsize=28, color='#333333')

fig.text(0.245, 0.976, '1st day', ha='center', va='center', fontsize=36,
         fontweight='bold', family='Liberation Serif', color='#c22a14')
fig.text(0.5216, 0.976, '2nd day', ha='center', va='center', fontsize=36,
         fontweight='bold', family='Liberation Serif', color='#c22a14')
fig.text(0.5567, 0.7605, 'Bad  charge calibration for SP-61-A3', ha='left',
         va='center', fontsize=32, fontweight='bold', family='DejaVu Serif',
         color='#474747', zorder=-1)

fig.savefig('out.png', dpi=100)
